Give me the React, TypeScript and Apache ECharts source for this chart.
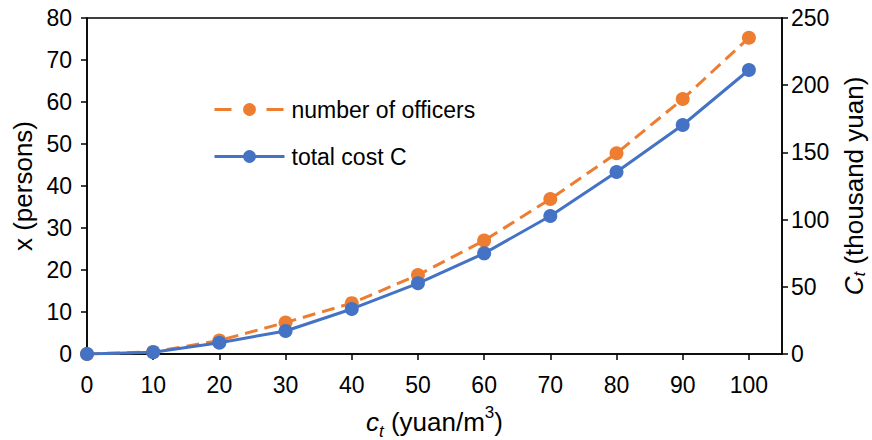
import React, { useEffect, useRef } from "react";
import * as echarts from "echarts";

const costPerM3 = [0, 10, 20, 30, 40, 50, 60, 70, 80, 90, 100];
const officers = [0, 0.5, 3.2, 7.5, 12.1, 18.8, 27.0, 36.9, 47.8, 60.7, 75.3];
const totalCost = [0, 1.3, 8.4, 17.1, 33.5, 52.6, 74.9, 102.7, 135.4, 170.4, 211.3];
const xTicks = [0, 10, 20, 30, 40, 50, 60, 70, 80, 90, 100];

const ORANGE = "#ED7D31";
const BLUE = "#4472C4";
const FONT = "Liberation Sans, Arial, Helvetica, sans-serif";
const FS = 23;
const NFS = 26;

export default function App() {
  const ref = useRef<HTMLDivElement>(null);
  useEffect(() => {
    if (!ref.current) return;
    const chart = echarts.init(ref.current, null, { renderer: "svg" });
    const axisLine = { show: true, lineStyle: { color: "#000", width: 1.5 } };
    const axisTick = { show: true, inside: false, length: 6, lineStyle: { color: "#000", width: 1.5 } };
    const axisLabel = { color: "#000", fontSize: FS, fontFamily: FONT };
    const richName = {
      b: { fontSize: NFS, fontFamily: FONT, color: "#000", lineHeight: 32 },
      i: { fontSize: NFS, fontFamily: FONT, fontStyle: "italic", color: "#000", lineHeight: 32 },
      sub: { fontSize: 17, fontFamily: FONT, fontStyle: "italic", color: "#000", verticalAlign: "bottom", lineHeight: 26 },
      sup: { fontSize: 17, fontFamily: FONT, color: "#000", verticalAlign: "top", lineHeight: 36 },
    };
    const richRight = {
      b: { fontSize: NFS, fontFamily: FONT, color: "#000", lineHeight: 28 },
      i: { fontSize: NFS, fontFamily: FONT, fontStyle: "italic", color: "#000", lineHeight: 28 },
      sub: { fontSize: 17, fontFamily: FONT, fontStyle: "italic", color: "#000", verticalAlign: "bottom", lineHeight: 22 },
    };
    chart.setOption({
      animation: false,
      backgroundColor: "#fff",
      grid: {
        left: 87,
        right: 90,
        top: 18,
        bottom: 86,
        show: true,
        borderColor: "#000",
        borderWidth: 1.5,
        containLabel: false,
        outerBoundsMode: "none",
      },
      legend: {
        orient: "vertical",
        left: 208,
        top: 93,
        itemWidth: 70,
        itemHeight: 16,
        itemGap: 24,
        textStyle: { color: "#000", fontSize: FS, fontFamily: FONT, padding: [0, 0, 0, 2] },
        data: [
          { name: "number of officers", lineStyle: { type: [17, 35], width: 3 } },
          { name: "total cost C", lineStyle: { width: 3 } },
        ],
      },
      xAxis: {
        type: "value",
        min: 0,
        max: 105,
        interval: 10,
        splitLine: { show: false },
        axisLine,
        axisTick: { ...axisTick, customValues: xTicks },
        axisLabel: { ...axisLabel, margin: 19, customValues: xTicks },
        name: "{i|c}{sub|t}{b| (yuan/m}{sup|3}{b|)}",
        nameLocation: "middle",
        nameGap: 50,
        nameTextStyle: { rich: richName },
      },
      yAxis: [
        {
          type: "value",
          min: 0,
          max: 80,
          interval: 10,
          position: "left",
          splitLine: { show: false },
          axisLine,
          axisTick,
          axisLabel: { ...axisLabel, margin: 15 },
          name: "x (persons)",
          nameLocation: "middle",
          nameRotate: 90,
          nameGap: 50,
          nameTextStyle: { color: "#000", fontSize: NFS, fontFamily: FONT },
        },
        {
          type: "value",
          min: 0,
          max: 250,
          interval: 50,
          position: "right",
          splitLine: { show: false },
          axisLine,
          axisTick,
          axisLabel: { ...axisLabel, margin: 9 },
          name: "{i|C}{sub|t}{b| (thousand yuan)}",
          nameLocation: "middle",
          nameRotate: 90,
          nameGap: 58,
          nameTextStyle: { rich: richRight },
        },
      ],
      series: [
        {
          name: "number of officers",
          type: "line",
          yAxisIndex: 0,
          data: costPerM3.map((c, i) => [c, officers[i]]),
          symbol: "circle",
          symbolSize: 14,
          itemStyle: { color: ORANGE },
          lineStyle: { color: ORANGE, width: 3, type: [13, 7] },
          z: 2,
        },
        {
          name: "total cost C",
          type: "line",
          yAxisIndex: 1,
          data: costPerM3.map((c, i) => [c, totalCost[i]]),
          symbol: "circle",
          symbolSize: 14,
          itemStyle: { color: BLUE },
          lineStyle: { color: BLUE, width: 3 },
          z: 3,
        },
      ],
    });
    return () => chart.dispose();
  }, []);
  return <div ref={ref} style={{ width: 872, height: 440, position: "absolute", left: 0, top: 0 }} />;
}
